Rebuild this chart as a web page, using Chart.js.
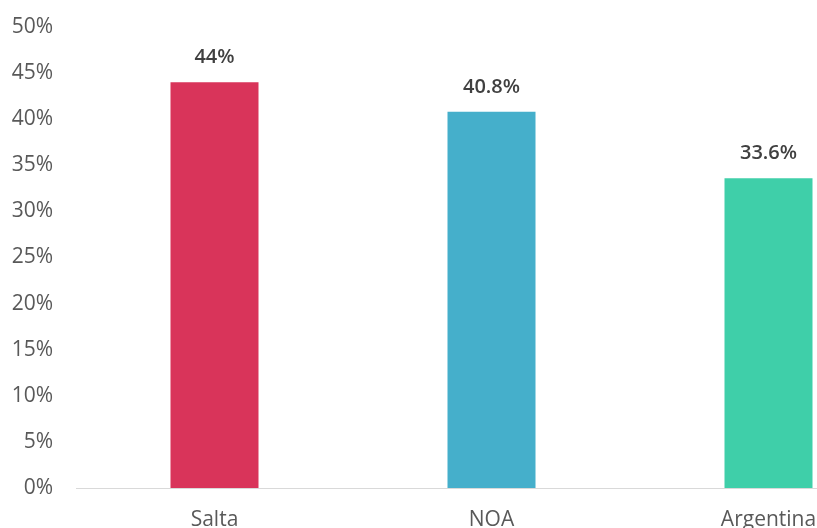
<!DOCTYPE html>
<html>
<head>
<meta charset="utf-8">
<script src="https://cdn.jsdelivr.net/npm/chart.js@4/dist/chart.umd.min.js"></script>
<style>
html,body{margin:0;padding:0;background:#fff;overflow:hidden;width:817px;height:528px;}
#wrap{width:911px;height:528px;}
</style>
</head>
<body>
<div id="wrap"><canvas id="c" width="911" height="528"></canvas></div>
<script>
const categories = ["Salta", "NOA", "Argentina"];
const values = [44, 40.8, 33.6];
const valueLabels = ["44%", "40.8%", "33.6%"];
const barColors = ["#D9345A", "#45AFCB", "#3FCFA9"];
const yTicks = [0, 5, 10, 15, 20, 25, 30, 35, 40, 45, 50];

const labelPlugin = {
  id: 'valueLabels',
  afterDatasetsDraw(chart) {
    const ctx = chart.ctx;
    const meta = chart.getDatasetMeta(0);
    ctx.save();
    ctx.font = '600 20px "Open Sans"';
    ctx.fillStyle = '#404040';
    ctx.textAlign = 'center';
    ctx.textBaseline = 'middle';
    meta.data.forEach((bar, i) => {
      ctx.fillText(valueLabels[i], bar.x, bar.y - 25);
    });
    ctx.restore();
  }
};

new Chart(document.getElementById('c'), {
  type: 'bar',
  data: {
    labels: categories,
    datasets: [{
      data: values,
      backgroundColor: barColors,
      borderWidth: 0,
      barPercentage: 0.3177,
      categoryPercentage: 1
    }]
  },
  options: {
    responsive: false,
    animation: false,
    devicePixelRatio: 1,
    layout: { padding: { top: 27, right: 4, left: 0, bottom: 0 } },
    plugins: { legend: { display: false }, tooltip: { enabled: false } },
    scales: {
      y: {
        min: 0, max: 50,
        afterFit(s) { s.width = 76; s.paddingTop = 0; s.paddingBottom = 0; },
        afterBuildTicks(s) { s.ticks = yTicks.map(v => ({ value: v })); },
        grid: { display: false, drawTicks: false },
        border: { display: false },
        ticks: {
          padding: 23,
          color: '#595959',
          font: { family: '"Open Sans"', size: 21 },
          callback: v => v + '%'
        }
      },
      x: {
        afterFit(s) { s.height = 40; },
        grid: { display: false, drawTicks: false },
        border: { display: true, color: '#D9D9D9', width: 1 },
        ticks: {
          padding: 19,
          color: '#595959',
          font: { family: '"Open Sans"', size: 21 }
        }
      }
    }
  },
  plugins: [labelPlugin]
});
</script>
</body>
</html>
